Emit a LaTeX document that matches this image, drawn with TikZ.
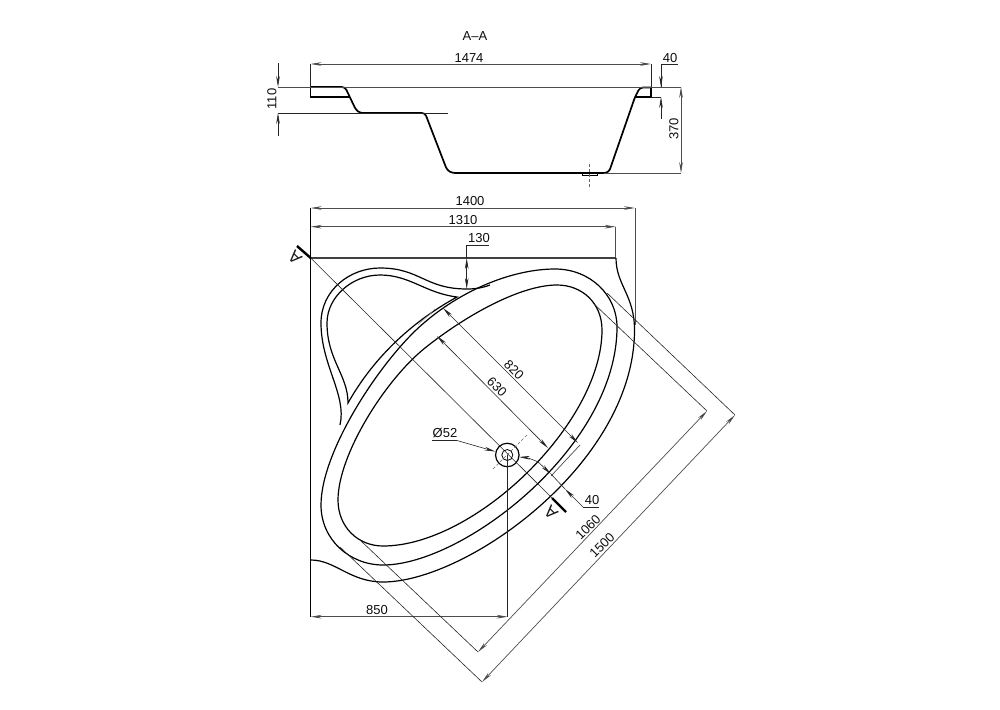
\documentclass[tikz,border=0pt]{standalone}
\usepackage{fontspec}
\setmainfont{Liberation Sans}
\usetikzlibrary{arrows.meta}
\tikzset{>={Stealth[length=11pt,width=3.6pt]}}
\tikzset{
  contour/.style={line width=1.2pt,black},
  profile/.style={line width=1.7pt,black,rounded corners=3pt},
  thinline/.style={line width=0.6pt,black!85},
  dimline/.style={line width=0.7pt,black!70},
  cutmark/.style={line width=2.4pt,black},
  centerline/.style={line width=0.5pt,black!60,densely dashed},
  lbl/.style={font=\fontsize{13}{14}\selectfont,inner sep=0pt,text=black!95},
  cutlbl/.style={font=\fontsize{17}{18}\selectfont,inner sep=0pt,text=black!90,rotate=135},
}

\begin{document}
\begin{tikzpicture}[x=1pt,y=-1pt]
  \useasboundingbox (0,0) rectangle (1000,709);

  % section
  \node[lbl] (title) at (475,36) {A--A};
  \draw[profile] (310.5,87)--(345,87)--(356,110)--(360,113)--(425,113)--(447,170)--(452,173)--(604,173);
  \draw[profile] (604,173)--(609,172)--(635,97)--(640,87.5)--(651,87.5);
  \draw[line width=1.4pt] (310.5,87)--(310.5,97)--(349,97);
  \draw[line width=1.4pt] (651,87)--(651,97)--(635,97);
  \draw[line width=1pt] (582,172)--(582,175.5)--(597,175.5)--(597,172);
  \draw[centerline] (589,164)--(589,187);

  \draw[dimline] (278,87)--(681,87);
  \draw[thinline] (278,113)--(448,113);
  \draw[thinline] (651,97)--(661,97);
  \draw[dimline] (604,173)--(681,173);

  \draw[dimline,<->] (310.5,64)--(651,64);
  \draw[thinline] (310.5,64)--(310.5,87);
  \draw[thinline] (651,64)--(651,87);
  \node[lbl] (d1474) at (469,58) {1474};

  \draw[thinline,->] (278,63)--(278,87);
  \draw[thinline,->] (278,136)--(278,113);
  \node[lbl,rotate=90] (d110) at (272,99) {110};

  \draw[dimline,<->] (681,87)--(681,173);
  \node[lbl,rotate=90] (d370) at (674,129) {370};

  \draw[thinline] (678,64)--(661,64)--(661,87);
  \draw[thinline,->] (661,68)--(661,87);
  \draw[thinline,->] (661,119)--(661,97);
  \node[lbl] (d40a) at (670,58) {40};

  % plan
  \draw[line width=1pt] (310.7,208)--(310.7,617);
  \draw[line width=1.9pt,black!75] (310.7,258)--(616,258);
  \draw[dimline] (635,208)--(635,325);
  \draw[dimline] (615.7,227)--(615.7,258);

  % rim
  \draw[contour] (616,258) .. controls (616,285) and (634.5,295) .. (634.5,330)
    .. controls (634.5,463) and (466.5,582) .. (383,582)
    .. controls (350,582) and (335,560) .. (311,560);
  % bowl edge
  \draw[contour] (555,269) .. controls (590,269) and (617,295) .. (617,327)
    .. controls (617,447) and (463,565) .. (383,565)
    .. controls (350,565) and (321,540) .. (321,505)
    .. controls (321,450) and (383,357) .. (425,322)
    .. controls (465,288) and (515,269) .. (555,269) -- cycle;
  % bowl bottom
  \draw[contour] (557,285) .. controls (582,285) and (602,303) .. (602,330)
    .. controls (602,423) and (475,546) .. (383,546)
    .. controls (358,546) and (338,527) .. (338,500)
    .. controls (338,455) and (385,380) .. (425,348)
    .. controls (465,316) and (520,285) .. (557,285) -- cycle;
  % seat
  \draw[contour] (340,425) .. controls (347,395) and (321,365) .. (321,323)
    .. controls (321,290) and (350,268) .. (380,268)
    .. controls (420,268) and (425,289) .. (467,289)
    .. controls (475,289) and (482,288) .. (490,285);
  \draw[contour] (348,403) .. controls (348,375) and (327,360) .. (327,323)
    .. controls (327,297) and (352,275) .. (380,275)
    .. controls (410,275) and (425,293) .. (457,297)
    .. controls (415,320) and (375,355) .. (348,403) -- cycle;
  \draw[line width=0.4pt,black!45] (418,325)--(435,309);

  \draw[dimline,<->] (310.7,208)--(635,208);
  \node[lbl] (d1400) at (470,201) {1400};
  \draw[dimline,<->] (310.7,226.7)--(615.7,226.7);
  \node[lbl] (d1310) at (463,220) {1310};

  \draw[thinline] (489,245)--(466.7,245)--(466.7,258);
  \draw[thinline,<->] (466.7,258)--(466.7,289);
  \node[lbl] (d130) at (479,238) {130};

  % section line
  \coordinate (cutA) at (310.7,258);
  \coordinate (cutB) at (552,498);
  \draw[thinline] (cutA)--(cutB);
  \draw[cutmark] (297,246)--(cutA);
  \draw[cutmark] (cutB)--(566,512);
  \node[cutlbl] (markA) at (295,258) {A};
  \node[cutlbl] (markB) at (551,513) {A};

  % drain
  \node[circle,draw,line width=1.2pt,minimum size=23.5pt,inner sep=0pt] (drain) at (507.3,455) {};
  \node[circle,draw,line width=0.8pt,minimum size=11pt,inner sep=0pt] (hole) at (507.3,455) {};
  \draw[centerline] (527,435)--(493,469);
  \draw[thinline] (507.7,455)--(507.7,617);
  \draw[dimline,<->] (310.7,616.7)--(507.7,616.7);
  \node[lbl] (d850) at (377,610) {850};

  \draw[thinline] (432,440.5)--(457,440.5);
  \draw[thinline,->] (457,440.5)--(drain);
  \node[lbl] (d52) at (445,433) {Ø52};

  % inner dimensions
  \coordinate (c820) at (580,445);
  \draw[thinline,<->] (443,308)--(578,443);
  \draw[dimline] (c820)--(551,476);
  \node[lbl,rotate=-45] (d820) at (514,370) {820};
  \draw[thinline,<->] (437,336)--(548,448);
  \node[lbl,rotate=-45] (d630) at (497,387) {630};

  % 40 at the rim
  \draw[thinline,->] (537,461.5) to[bend right=10] (519,457);
  \draw[thinline,->] (537,461)--(551,474);
  \draw[thinline,->] (583,507)--(565,489);
  \draw[thinline] (551,474)--(565,489);
  \draw[thinline] (583,507)--(599,507);
  \node[lbl] (d40b) at (592,500) {40};

  % diagonal dimensions
  \coordinate (a1060) at (478,652);
  \coordinate (b1060) at (707,411);
  \coordinate (a1500) at (482,682);
  \coordinate (b1500) at (735,415);
  \draw[thinline] (593,303)--(b1060);
  \draw[thinline] (360,540)--(a1060);
  \draw[thinline] (607,293)--(b1500);
  \draw[thinline] (340,547)--(a1500);
  \draw[dimline,<->] (a1060)--(b1060);
  \draw[dimline,<->] (a1500)--(b1500);
  \node[lbl,rotate=45] (d1060) at (588,527) {1060};
  \node[lbl,rotate=45] (d1500) at (602,545) {1500};
\end{tikzpicture}
\end{document}
